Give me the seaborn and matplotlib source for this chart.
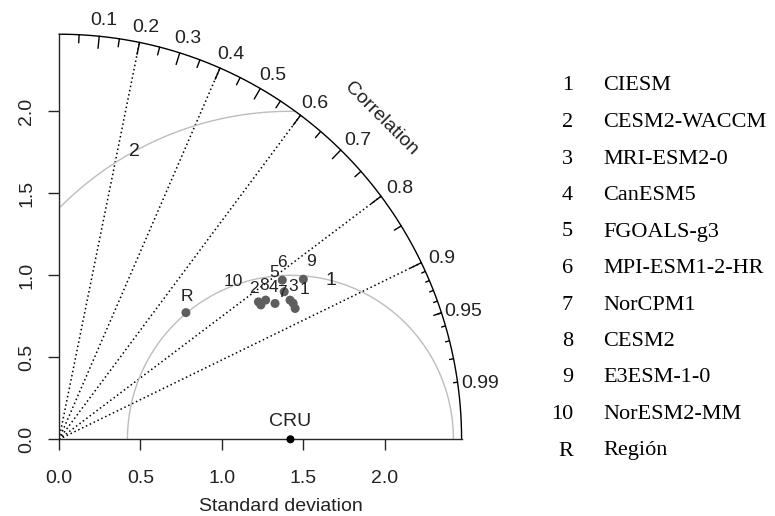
import numpy as np
import pandas as pd
import matplotlib
matplotlib.use("Agg")
import matplotlib.pyplot as plt
import seaborn as sns

# ---------------- data ----------------
point_ids = ["1", "2", "3", "4", "5", "6", "7", "8", "9", "10"]
model_names = ["CIESM", "CESM2-WACCM", "MRI-ESM2-0", "CanESM5", "FGOALS-g3",
               "MPI-ESM1-2-HR", "NorCPM1", "CESM2", "E3ESM-1-0", "NorESM2-MM"]
model_sd = [1.654, 1.485, 1.659, 1.563, 1.649, 1.679, 1.652, 1.526, 1.789, 1.483]
model_cor = [0.876, 0.834, 0.866, 0.848, 0.838, 0.816, 0.858, 0.831, 0.838, 0.825]

region_id = "R"
region_name = "Región"
region_sd = 1.097
region_cor = 0.710

ref_name = "CRU"
ref_sd = 1.42

max_sd = 2.47
sd_ticks = [0.0, 0.5, 1.0, 1.5, 2.0]
cor_lines = [0.2, 0.4, 0.6, 0.8, 0.9]
cor_labels = [0.1, 0.2, 0.3, 0.4, 0.5, 0.6, 0.7, 0.8, 0.9, 0.95, 0.99]
rms_arcs = [1, 2]

# label offsets (style only, data units)
label_offsets = {"1": (0.055, 0.115), "2": (-0.045, 0.10), "3": (0.0, 0.10),
                 "4": (-0.008, 0.10), "5": (-0.062, 0.115), "6": (0.0, 0.105),
                 "7": (-0.05, 0.045), "8": (-0.012, 0.09), "9": (0.048, 0.106),
                 "10": (-0.154, 0.122), "R": (0.004, 0.098)}

# ---------------- style ----------------
sns.set_style("ticks")
plt.rcParams["font.family"] = ["Liberation Sans", "DejaVu Sans"]
plt.rcParams["axes.linewidth"] = 1.0

fig = plt.figure(figsize=(7.75, 5.16), dpi=100)
ax = fig.add_axes([0.0761, 0.1486, 0.5195, 0.7851])
ax.set_xlim(0, max_sd)
ax.set_ylim(0, max_sd)

txt = "#222222"

# model and region points
ids = point_ids + [region_id]
sds = np.array(model_sd + [region_sd])
cors = np.array(model_cor + [region_cor])
df = pd.DataFrame({"id": ids, "x": sds * cors, "y": sds * np.sqrt(1 - cors ** 2)})

# correlation rays
for c in cor_lines:
    ax.plot([0, max_sd * c], [0, max_sd * np.sqrt(1 - c ** 2)], color="black",
            lw=1.1, ls=(0, (1, 1.8)), zorder=1)

# centred RMS arcs
for g in rms_arcs:
    t = np.linspace(0, np.pi, 400)
    xc = ref_sd + g * np.cos(t)
    yc = g * np.sin(t)
    keep = (xc >= 0) & (xc ** 2 + yc ** 2 <= max_sd ** 2)
    ax.plot(xc[keep], yc[keep], color="#bdbdbd", lw=1.0, zorder=1, clip_on=False)
    tl = 0.03 * (44 + (g - 1) * 25)
    ax.text(ref_sd + g * np.cos(tl), g * np.sin(tl), str(g), ha="center",
            va="center", fontsize=14, color=txt, zorder=3)

# outer arc
t = np.linspace(0, np.pi / 2, 300)
ax.plot(max_sd * np.cos(t), max_sd * np.sin(t), color="black", lw=1.0, clip_on=False)

big = np.arange(0.1, 0.91, 0.1)
med = np.arange(0.05, 0.96, 0.1)
sml = np.arange(0.91, 0.995, 0.01)
for arr, f in [(big, 0.97), (med, 0.98), (sml, 0.99)]:
    a = np.arccos(arr)
    for ang in a:
        ax.plot([np.cos(ang) * max_sd, np.cos(ang) * f * max_sd],
                [np.sin(ang) * max_sd, np.sin(ang) * f * max_sd],
                color="black", lw=1.0, clip_on=False)

for c in cor_labels:
    ang = np.arccos(c)
    lab = f"{c:g}"
    ax.text(np.cos(ang) * 1.05 * max_sd + 0.015, np.sin(ang) * 1.05 * max_sd - 0.028, lab,
            ha="center", va="center", fontsize=14, color=txt, clip_on=False)

ax.text(0.8 * max_sd, 0.8 * max_sd - 0.02, "Correlation", rotation=-45,
        rotation_mode="anchor", ha="center", va="center", fontsize=14, color=txt)

# points
sns.scatterplot(data=df, x="x", y="y", ax=ax, color="#5e5e5e", s=42,
                edgecolor="none", zorder=4, legend=False)
for _, r in df.iterrows():
    dx, dy = label_offsets[r["id"]]
    ax.text(r["x"] + dx, r["y"] + dy, r["id"], ha="center", va="center",
            fontsize=12.5, color=txt, zorder=5)

# reference point
sns.scatterplot(x=[ref_sd], y=[0.0], ax=ax, color="black", s=34,
                edgecolor="none", zorder=6, legend=False, clip_on=False)
ax.text(ref_sd, 0.107, ref_name, ha="center", va="center", fontsize=14, color=txt)

# axes
sns.despine(ax=ax)
ax.spines["left"].set_bounds(0, max_sd)
ax.spines["bottom"].set_bounds(0, max_sd)
ax.set_xticks(sd_ticks)
ax.set_yticks(sd_ticks)
ax.set_xticklabels([f"{v:.1f}" for v in sd_ticks])
ax.set_yticklabels([f"{v:.1f}" for v in sd_ticks], rotation=90, va="center")
ax.tick_params(axis="both", length=8, width=1.0, labelsize=14, labelcolor=txt,
               direction="out")
ax.tick_params(axis="x", pad=14)
ax.tick_params(axis="y", pad=9)
ax.set_xlabel("Standard deviation", fontsize=14, color=txt, va="center")
ax.xaxis.set_label_coords(0.55, -0.167)
ax.set_ylabel("")

# legend on the right (serif text)
serif = ["Liberation Serif", "DejaVu Serif"]
all_ids = point_ids + [region_id]
all_names = model_names + [region_name]
for i, (pid, nm) in enumerate(zip(all_ids, all_names)):
    yy = 1 - (86 + i * 36.5) / 516
    fig.text(573 / 775, yy, pid, ha="right", va="center", fontsize=16,
             family=serif, color="black")
    fig.text(603 / 775, yy, nm, ha="left", va="center", fontsize=16,
             family=serif, color="black")

fig.savefig("out.png", dpi=100)
